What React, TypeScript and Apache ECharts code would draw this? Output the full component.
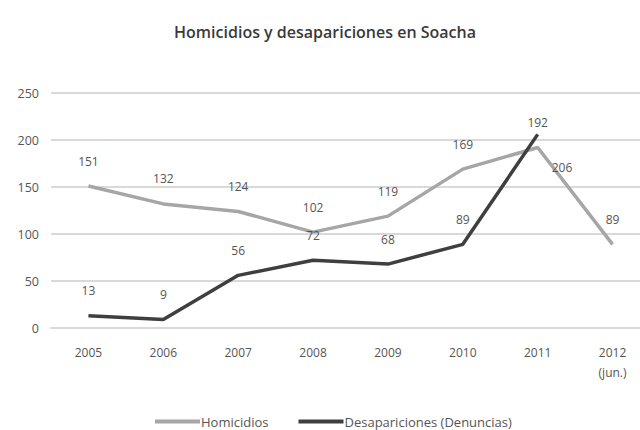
import React, { useEffect, useRef } from "react";
import * as echarts from "echarts";

const categories = ["2005", "2006", "2007", "2008", "2009", "2010", "2011", "2012\n(jun.)"];
const homicidios = [151, 132, 124, 102, 119, 169, 192, 89];
const desapariciones = [13, 9, 56, 72, 68, 89, 206, null];
const yTicks = { min: 0, max: 250, interval: 50 };

const FONT = "'Open Sans', 'Noto Sans', sans-serif";

export default function App() {
  const ref = useRef<HTMLDivElement>(null);
  useEffect(() => {
    if (!ref.current) return;
    const chart = echarts.init(ref.current, undefined, { renderer: "svg" });
    const labelStyle = {
      show: true,
      position: "top",
      distance: 19,
      fontFamily: FONT,
      fontSize: 12,
      color: "#555",
    };
    chart.setOption({
      animation: false,
      backgroundColor: "#ffffff",
      title: {
        text: "Homicidios y desapariciones en Soacha",
        left: 320,
        textAlign: "center",
        top: 19,
        textStyle: { fontFamily: FONT, fontSize: 16, fontWeight: 600, color: "#3a3a3a" },
      },
      legend: {
        top: 410,
        left: 150,
        itemWidth: 45,
        itemHeight: 4,
        itemGap: 30,
        icon: "rect",
        textStyle: { fontFamily: FONT, fontSize: 13, color: "#555", padding: [0, 0, 0, -4] },
        data: ["Homicidios", "Desapariciones (Denuncias)"],
      },
      grid: { left: 51, top: 93, width: 599, height: 235 },
      xAxis: {
        type: "category",
        data: categories,
        boundaryGap: true,
        axisLine: { show: true, lineStyle: { color: "#d9d9d9", width: 2 } },
        axisTick: { show: false },
        axisLabel: { fontFamily: FONT, fontSize: 12, color: "#555", margin: 14, lineHeight: 20 },
      },
      yAxis: {
        type: "value",
        min: yTicks.min,
        max: yTicks.max,
        interval: yTicks.interval,
        axisLine: { show: false },
        axisTick: { show: false },
        splitLine: { lineStyle: { color: "#d9d9d9", width: 2 } },
        axisLabel: { fontFamily: FONT, fontSize: 12.5, color: "#555", margin: 12 },
      },
      series: [
        {
          name: "Homicidios",
          type: "line",
          data: homicidios,
          symbol: "circle",
          symbolSize: 0,
          showSymbol: true,
          lineStyle: { color: "#a6a6a6", width: 3.5 },
          itemStyle: { color: "#a6a6a6" },
          label: labelStyle,
          z: 2,
        },
        {
          name: "Desapariciones (Denuncias)",
          type: "line",
          data: desapariciones.map((v, i) =>
            i === 6
              ? { value: v, label: { position: "right", distance: 5, offset: [9, 33] } }
              : v
          ),
          symbol: "circle",
          symbolSize: 0,
          showSymbol: true,
          lineStyle: { color: "#3f3f3f", width: 3.5 },
          itemStyle: { color: "#3f3f3f" },
          label: labelStyle,
          z: 3,
        },
      ],
    });
    return () => chart.dispose();
  }, []);
  return (
    <div style={{ position: "fixed", left: 0, top: 0, width: 640, height: 430, overflow: "hidden" }}>
      <div ref={ref} style={{ width: 670, height: 430 }} />
    </div>
  );
}
